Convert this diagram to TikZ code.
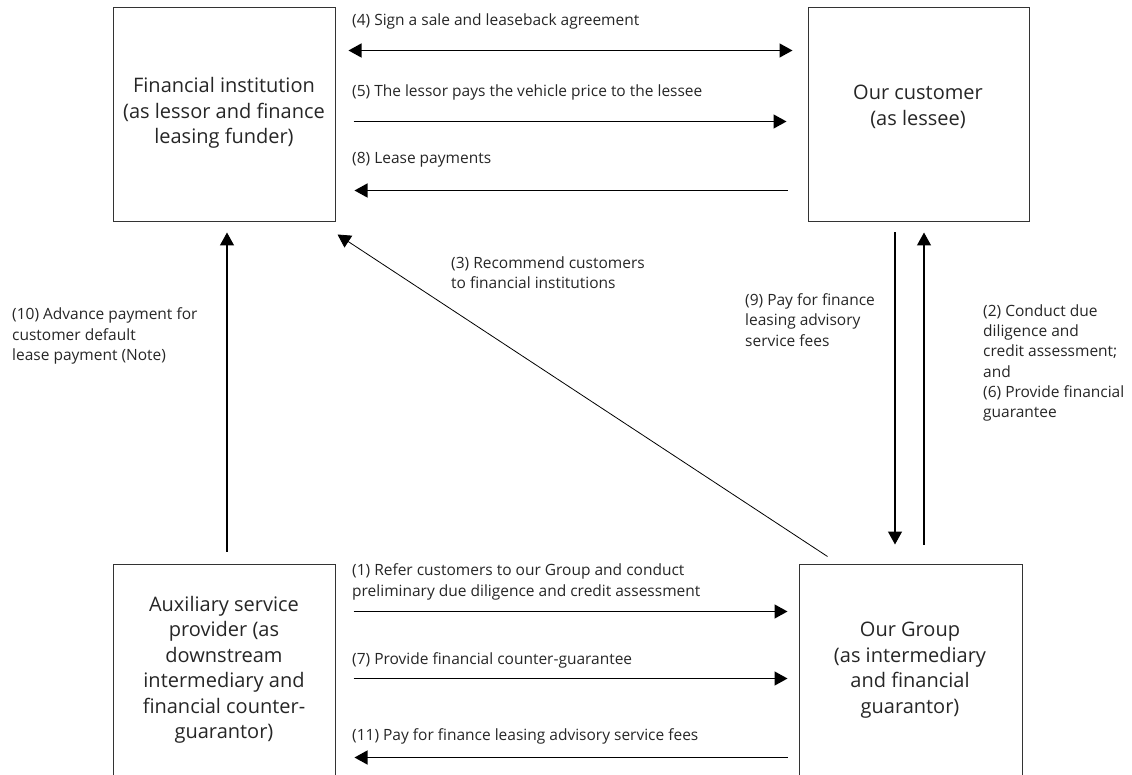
\documentclass[tikz,border=0pt]{standalone}
\usepackage{fontspec}
\setmainfont{Open Sans}
\usetikzlibrary{arrows.meta,calc}
\begin{document}
\begin{tikzpicture}[x=1pt,y=-1pt,
  entity/.style={draw=black!80, line width=1pt, minimum width=222pt, minimum height=214pt, inner sep=0pt},
  boxtext/.style={font=\fontsize{20}{25.5}\selectfont, align=center, text=black!85, inner sep=0pt},
  lbl/.style={font=\fontsize{15.5}{20.3}\selectfont, align=left, anchor=west, inner sep=0pt, text=black!85},
  flow/.style={line width=1.3pt, -{Triangle[length=13pt,width=14pt]}},
  bothflow/.style={line width=1.3pt, {Triangle[length=13pt,width=14pt]}-{Triangle[length=13pt,width=14pt]}},
  thinflow/.style={line width=0.8pt, -{Triangle[length=13pt,width=14pt]}}]
\path[use as bounding box] (0,0) rectangle (1132,775);
\clip (0,0) rectangle (1132,775);
% boxes
\node[entity] (fi) at (224,115) {};
\node[entity, minimum width=221pt] (cust) at (918.5,115) {};
\node[entity, minimum height=230pt] (aux) at (224,679) {};
\node[entity, minimum width=223pt, minimum height=230pt] (grp) at (910.5,679) {};
% box texts
\node[boxtext] (fitext) at (224,113) {Financial institution\\(as lessor and finance\\leasing funder)};
\node[boxtext] (custtext) at (918,107) {Our customer\\(as lessee)};
\node[boxtext] (auxtext) at (224,670) {Auxiliary service\\provider (as\\downstream\\intermediary and\\financial counter-\\guarantor)};
\node[boxtext] (grptext) at (910,670) {Our Group\\(as intermediary\\and financial\\guarantor)};
% top arrows
\draw[bothflow] ([shift={(13,43)}]fi.north east) -- ([shift={(-15,43)}]cust.north west);
\draw[flow] ([shift={(18,114)}]fi.north east) -- ([shift={(-21,114)}]cust.north west);
\draw[flow] ([shift={(-20,183)}]cust.north west) -- ([shift={(19,183)}]fi.north east);
% verticals and diagonal
\draw[flow] ([shift={(3,-12)}]aux.north) -- ([shift={(3,10)}]fi.south);
\draw[thinflow] ([shift={(29,-7)}]grp.north west) -- ([shift={(2,12)}]fi.south east);
\draw[flow] ([shift={(-23.5,10)}]cust.south) -- ([shift={(-15.5,-19)}]grp.north);
\draw[flow] ([shift={(13.5,-19)}]grp.north) -- ([shift={(5.5,10)}]cust.south);
% bottom arrows
\draw[flow] ([shift={(18,48)}]aux.north east) -- ([shift={(-11,48)}]grp.north west);
\draw[flow] ([shift={(18,115)}]aux.north east) -- ([shift={(-11,115)}]grp.north west);
\draw[flow] ([shift={(-11,194)}]grp.north west) -- ([shift={(19,194)}]aux.north east);
% labels
\node[lbl] (l4) at (352,21) {(4) Sign a sale and leaseback agreement};
\node[lbl] (l5) at (352,92) {(5) The lessor pays the vehicle price to the lessee};
\node[lbl] (l8) at (352,160) {(8) Lease payments};
\node[lbl] (l3) at (451,273) {(3) Recommend customers\\to financial institutions};
\node[lbl] (l10) at (12,336) {(10) Advance payment for\\customer default\\lease payment (Note)};
\node[lbl] (l9) at (745,320) {(9) Pay for finance\\leasing advisory\\service fees};
\node[lbl] (l2) at (983,363) {(2) Conduct due\\diligence and\\credit assessment;\\and\\(6) Provide financial\\guarantee};
\node[lbl] (l1) at (352,582) {(1) Refer customers to our Group and conduct\\preliminary due diligence and credit assessment};
\node[lbl] (l7) at (352,660) {(7) Provide financial counter-guarantee};
\node[lbl] (l11) at (352,736) {(11) Pay for finance leasing advisory service fees};
\end{tikzpicture}
\end{document}
